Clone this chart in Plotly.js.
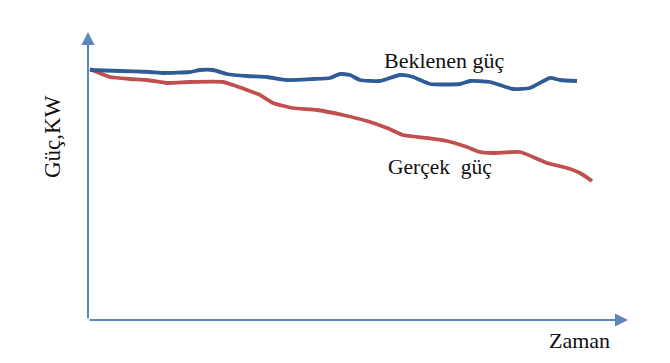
<!DOCTYPE html>
<html>
<head>
<meta charset="utf-8">
<script src="https://cdn.plot.ly/plotly-3.0.1.min.js"></script>
<style>html,body{margin:0;padding:0;background:#fff;}</style>
</head>
<body>
<div id="chart" style="width:670px;height:363px;"></div>
<script>
// Time (arbitrary units) and power (arbitrary units)
const beklenenTime = [2,32,62,75,102,112,125,139,159,179,199,225,242,252,262,272,292,312,325,342,372,382,402,425,442,462,472,489];
const beklenenPower = [250,249,248,247,248,250,250,246,244,243,240,241,242,246,245,240,239,245,243,236,236,239,238,231,232,242,240,239];
const gercekTime = [2,22,42,59,79,102,135,145,159,172,185,205,229,255,279,299,315,339,359,379,392,405,432,445,459,479,492,504];
const gercekPower = [251,243,241,240,237,238,238,235,230,225,217,212,210,205,199,192,185,182,179,173,168,167,168,163,157,152,147,139];

const seriesNames = ["Beklenen güç", "Gerçek  güç"];
const yLabel = "Güç,KW";
const xLabel = "Zaman";

const serif = "Liberation Serif, Times New Roman, serif";
const axisColor = "#5a87c0";

const traces = [
  {x: gercekTime, y: gercekPower, name: seriesNames[1], mode: "lines",
   line: {color: "#c0504d", width: 3.8, shape: "spline", smoothing: 0.5}},
  {x: beklenenTime, y: beklenenPower, name: seriesNames[0], mode: "lines",
   line: {color: "#2f5b96", width: 3.8, shape: "spline", smoothing: 0.5}}
];

const layout = {
  width: 670, height: 363,
  margin: {l: 88, r: 42, t: 32, b: 43},
  paper_bgcolor: "#fff", plot_bgcolor: "#fff",
  showlegend: false,
  xaxis: {range: [0, 540], visible: false, fixedrange: true},
  yaxis: {range: [0, 288], visible: false, fixedrange: true},
  annotations: [
    // y axis with arrow
    {xref: "paper", yref: "paper", x: 0, y: 1, ax: 0, ay: 288, axref: "pixel", ayref: "pixel",
     text: "", showarrow: true, arrowhead: 2, arrowsize: 1.3, arrowwidth: 2, arrowcolor: axisColor},
    // x axis with arrow
    {xref: "paper", yref: "paper", x: 1, y: 0, ax: -540, ay: 0, axref: "pixel", ayref: "pixel",
     text: "", showarrow: true, arrowhead: 2, arrowsize: 1.3, arrowwidth: 2, arrowcolor: axisColor},
    {xref: "x", yref: "y", x: 356, y: 260, text: seriesNames[0], showarrow: false,
     xanchor: "center", yanchor: "middle",
     font: {family: serif, size: 22, color: "#111"}},
    {xref: "x", yref: "y", x: 352, y: 153, text: seriesNames[1], showarrow: false,
     xanchor: "center", yanchor: "middle",
     font: {family: serif, size: 21.5, color: "#111"}},
    {xref: "paper", yref: "paper", x: (579-88)/540, y: -(340-320)/288, text: xLabel, showarrow: false,
     xanchor: "center", yanchor: "middle",
     font: {family: serif, size: 22, color: "#111"}},
    {xref: "paper", yref: "paper", x: -(88-52)/540, y: (320-137)/288, text: yLabel, showarrow: false, textangle: -90,
     xanchor: "center", yanchor: "middle",
     font: {family: serif, size: 23, color: "#111"}}
  ]
};

Plotly.newPlot("chart", traces, layout, {displayModeBar: false, staticPlot: true});
</script>
</body>
</html>
